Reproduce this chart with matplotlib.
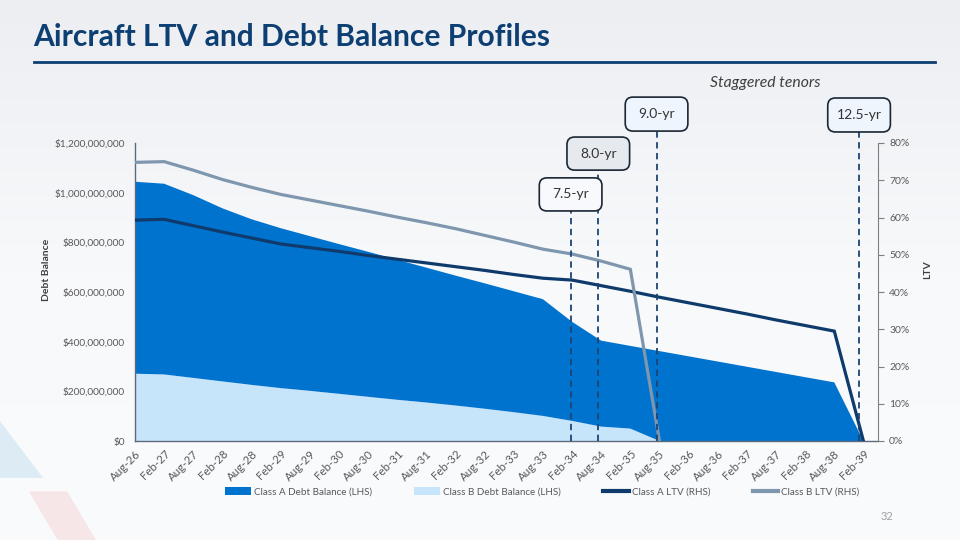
import matplotlib.pyplot as plt
import numpy as np
from matplotlib.patches import Patch, FancyBboxPatch, Polygon
from matplotlib.lines import Line2D
from matplotlib.ticker import FuncFormatter
from matplotlib.transforms import blended_transform_factory

plt.rcParams['font.family'] = ['Lato', 'DejaVu Sans']

# chart data (debt in $ millions, LTV in %)
dates = ['Aug-26', 'Feb-27', 'Aug-27', 'Feb-28', 'Aug-28', 'Feb-29', 'Aug-29', 'Feb-30',
         'Aug-30', 'Feb-31', 'Aug-31', 'Feb-32', 'Aug-32', 'Feb-33', 'Aug-33', 'Feb-34',
         'Aug-34', 'Feb-35', 'Aug-35', 'Feb-36', 'Aug-36', 'Feb-37', 'Aug-37', 'Feb-38',
         'Aug-38', 'Feb-39']
class_a_debt = [773, 768, 736, 697, 667, 644, 623, 603, 584, 564, 543, 523, 505, 487,
                470, 399, 346, 333, 362, 341, 320, 299, 278, 257, 236, 0]
class_b_debt = [271, 268, 254, 240, 226, 213, 202, 190, 178, 166, 155, 143, 130, 116,
                101, 81, 58, 50, 0, 0, 0, 0, 0, 0, 0, 0]
class_a_ltv = [59.3, 59.5, 57.8, 56.1, 54.5, 52.9, 51.9, 50.9, 49.8, 48.8, 47.8, 46.8,
               45.8, 44.7, 43.7, 43.2, 41.7, 40.2, 38.6, 37.1, 35.6, 34.1, 32.5, 31.0,
               29.5, 0.0]
class_b_ltv = [74.8, 75.0, 72.7, 70.2, 68.1, 66.2, 64.7, 63.2, 61.7, 60.1, 58.6, 57.0,
               55.2, 53.4, 51.5, 50.2, 48.3, 46.1, 0.0] + [np.nan] * 7

# tenor call-outs: label, x position (category index), box top / bottom (axes fraction)
tenor_labels = ['7.5-yr', '8.0-yr', '9.0-yr', '12.5-yr']
tenor_x = [14.95, 15.9, 17.9, 24.85]
tenor_box_top = [0.883, 1.020, 1.154, 1.151]
tenor_box_bottom = [0.772, 0.909, 1.040, 1.037]
tenor_fill = ['#f7f9fc', '#e6e9ed', '#eef5fd', '#eef5fd']

col_a = '#0073cf'
col_b = '#c6e4fa'
col_a_ltv = '#0f3b6c'
col_b_ltv = '#7f97ae'
navy = '#0d3f73'
tick_col = '#595959'

fig = plt.figure(figsize=(9.6, 5.4), dpi=100)
fig.patch.set_facecolor('#f6f7f9')

# soft background gradient
bg = fig.add_axes([0, 0, 1, 1], zorder=-10)
grad = np.linspace(0, 1, 256).reshape(-1, 1)
bg.imshow(grad, aspect='auto', cmap=plt.matplotlib.colors.LinearSegmentedColormap.from_list(
    'bg', ['#eceef2', '#f8f9fb', '#fafbfc']), extent=[0, 1, 0, 1])
bg.add_patch(Polygon([[0, 0.22], [0.045, 0.115], [0, 0.115]], closed=True,
                     color='#a9d3e8', alpha=0.35, lw=0))
bg.add_patch(Polygon([[0.03, 0.09], [0.06, 0.0], [0.10, 0.0], [0.07, 0.09]], closed=True,
                     color='#f2b8bf', alpha=0.3, lw=0))
bg.set_xlim(0, 1)
bg.set_ylim(0, 1)
bg.axis('off')

# title
fig.text(0.035, 0.915, 'Aircraft LTV and Debt Balance Profiles', fontsize=21.6,
         fontweight='bold', color=navy, va='baseline')
fig.add_artist(Line2D([0.035, 0.974], [0.885, 0.885], color=navy, lw=2))
fig.text(0.797, 0.846, 'Staggered tenors', fontsize=11.3, style='italic',
         color='#404040', ha='center', va='center')
fig.text(0.917, 0.037, '32', fontsize=8, color='#a0a0a0', ha='left')

ax = fig.add_axes([135 / 960, 99 / 540, 743 / 960, 298 / 540])
ax.patch.set_alpha(0)
x = np.arange(len(dates))
a_vals = np.array(class_a_debt) * 1e6
b_vals = np.array(class_b_debt) * 1e6
ax.stackplot(x, b_vals, a_vals, colors=[col_b, col_a], lw=0)
ax.set_xlim(0, 25.5)
ax.set_ylim(0, 1.2e9)
ax.set_yticks(np.arange(0, 1.21e9, 2e8))
ax.yaxis.set_major_formatter(FuncFormatter(lambda v, p: '${:,.0f}'.format(v)))
ax.set_xticks(x)
ax.set_xticklabels(dates, rotation=45, ha='right', rotation_mode='anchor')
ax.tick_params(axis='x', length=0, pad=5, labelsize=8.3, labelcolor=tick_col)
ax.tick_params(axis='y', length=0, pad=7.5, labelsize=7.3, labelcolor=tick_col)
for s in ['top', 'right']:
    ax.spines[s].set_visible(False)
for s in ['left', 'bottom']:
    ax.spines[s].set_color('#5b6b7c')
    ax.spines[s].set_linewidth(1)
ax.set_ylabel('Debt Balance', fontsize=7.5, fontweight='bold', color='#404040')
ax.yaxis.set_label_coords(-0.113, 0.574)

ax2 = ax.twinx()
ax2.plot(x, class_a_ltv, color=col_a_ltv, lw=2.3, solid_joinstyle='miter')
ax2.plot(x, class_b_ltv, color=col_b_ltv, lw=2.3, solid_joinstyle='miter')
ax2.set_ylim(0, 80)
ax2.set_yticks(np.arange(0, 81, 10))
ax2.yaxis.set_major_formatter(FuncFormatter(lambda v, p: '{:.0f}%'.format(v)))
ax2.tick_params(axis='y', length=4, width=0.8, color='#7f7f7f', pad=4, labelsize=7.5,
                labelcolor=tick_col)
for s in ['top', 'left', 'bottom']:
    ax2.spines[s].set_visible(False)
ax2.spines['right'].set_color('#7f7f7f')
ax2.set_ylabel('LTV', fontsize=7.5, fontweight='bold', color='#404040')
ax2.yaxis.set_label_coords(1.061, 0.574)

# tenor call-outs
trans = blended_transform_factory(ax2.transData, ax2.transAxes)
box_w = 2.15
for lab, tx, top, bot, fc in zip(tenor_labels, tenor_x, tenor_box_top, tenor_box_bottom, tenor_fill):
    ax2.plot([tx, tx], [0, bot], transform=trans, color='#1d4473', lw=1.3,
             dashes=(3.5, 2.5), clip_on=False, zorder=5)
    # convert to figure fraction so the rounding stays circular
    x0, y0 = fig.transFigure.inverted().transform(trans.transform((tx - box_w / 2, bot)))
    x1, y1 = fig.transFigure.inverted().transform(trans.transform((tx + box_w / 2, top)))
    box = FancyBboxPatch((x0, y0), x1 - x0, y1 - y0, boxstyle='round,pad=0,rounding_size=0.008',
                         mutation_aspect=960 / 540, transform=fig.transFigure,
                         facecolor=fc, edgecolor='#1b2633', lw=1.2, zorder=6)
    fig.add_artist(box)
    fig.text((x0 + x1) / 2, (y0 + y1) / 2, lab, fontsize=10, color='#333333',
             ha='center', va='center', zorder=7)

handles = [Patch(facecolor=col_a, edgecolor='none'),
           Patch(facecolor=col_b, edgecolor='none'),
           Line2D([], [], color=col_a_ltv, lw=3),
           Line2D([], [], color=col_b_ltv, lw=3)]
labels = ['Class A Debt Balance (LHS)', 'Class B Debt Balance (LHS)',
          'Class A LTV (RHS)', 'Class B LTV (RHS)']
leg = fig.legend(handles, labels, loc='center', bbox_to_anchor=(0.565, 0.089), ncol=4,
                 frameon=False, fontsize=7.1, handlelength=2.6, handleheight=0.75,
                 handletextpad=0.3, columnspacing=4.3)
for t in leg.get_texts():
    t.set_color(tick_col)

fig.savefig('out.png', dpi=100, facecolor=fig.get_facecolor())
